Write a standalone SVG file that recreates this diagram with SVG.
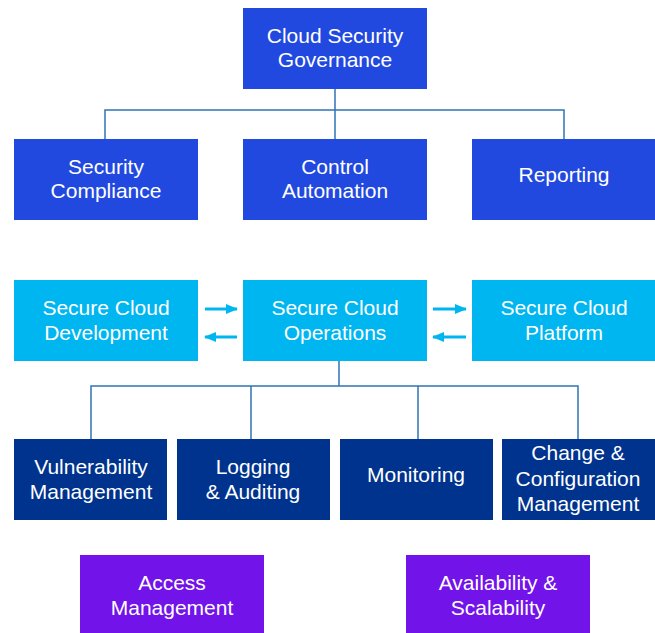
<svg xmlns="http://www.w3.org/2000/svg" width="655" height="633" viewBox="0 0 655 633">
<defs>
<style>
.t{font-family:"Liberation Sans",Arial,sans-serif;font-size:21px;fill:#ffffff;text-anchor:middle}
.gov{fill:#2149E0}
.ops{fill:#00B6F1}
.dom{fill:#00338D}
.oth{fill:#7213EA}
.con{fill:none;stroke:#2F74B5;stroke-width:1.5}
.arr{fill:none;stroke:#00B6F1;stroke-width:3}
</style>
<marker id="ah" viewBox="0 0 12 10" refX="11" refY="5" markerWidth="4" markerHeight="3.33" orient="auto" markerUnits="strokeWidth">
<path d="M0,0 L12,5 L0,10 z" fill="#00B6F1"/>
</marker>
</defs>
<rect width="655" height="633" fill="#ffffff"/>
<g id="connectors">
<path class="con" d="M335,88 V110 M105,139 V110 H564 V139 M335,110 V139"/>
<path class="con" d="M339,360 V386 M91,439 V386 H578 V439 M251,386 V439 M418,386 V439"/>
<path class="arr" d="M205,309 H237" marker-end="url(#ah)"/>
<path class="arr" d="M237,337 H205" marker-end="url(#ah)"/>
<path class="arr" d="M433,309 H466" marker-end="url(#ah)"/>
<path class="arr" d="M466,337 H433" marker-end="url(#ah)"/>
</g>
<g id="n-governance"><rect class="gov" x="243" y="8" width="184" height="81"/><text class="t" x="335" y="43">Cloud Security</text><text class="t" x="335" y="67">Governance</text></g>
<g id="n-compliance"><rect class="gov" x="14" y="139" width="184" height="81"/><text class="t" x="106" y="174">Security</text><text class="t" x="106" y="198">Compliance</text></g>
<g id="n-automation"><rect class="gov" x="243" y="139" width="184" height="81"/><text class="t" x="335" y="174">Control</text><text class="t" x="335" y="198">Automation</text></g>
<g id="n-reporting"><rect class="gov" x="472" y="139" width="183" height="81"/><text class="t" x="564" y="182">Reporting</text></g>
<g id="n-development"><rect class="ops" x="14" y="280" width="184" height="81"/><text class="t" x="106" y="315">Secure Cloud</text><text class="t" x="106" y="340">Development</text></g>
<g id="n-operations"><rect class="ops" x="243" y="280" width="184" height="81"/><text class="t" x="335" y="315">Secure Cloud</text><text class="t" x="335" y="340">Operations</text></g>
<g id="n-platform"><rect class="ops" x="472" y="280" width="183" height="81"/><text class="t" x="564" y="315">Secure Cloud</text><text class="t" x="564" y="340">Platform</text></g>
<g id="n-vulnerability"><rect class="dom" x="14" y="439" width="153" height="81"/><text class="t" x="91" y="474">Vulnerability</text><text class="t" x="91" y="499">Management</text></g>
<g id="n-logging"><rect class="dom" x="177" y="439" width="153" height="81"/><text class="t" x="253" y="474">Logging</text><text class="t" x="253" y="499">&amp; Auditing</text></g>
<g id="n-monitoring"><rect class="dom" x="340" y="439" width="153" height="81"/><text class="t" x="416" y="482">Monitoring</text></g>
<g id="n-change"><rect class="dom" x="502" y="439" width="153" height="81"/><text class="t" x="578" y="460">Change &amp;</text><text class="t" x="578" y="486">Configuration</text><text class="t" x="578" y="511">Management</text></g>
<g id="n-access"><rect class="oth" x="80" y="555" width="184" height="78"/><text class="t" x="172" y="590">Access</text><text class="t" x="172" y="615">Management</text></g>
<g id="n-availability"><rect class="oth" x="406" y="555" width="184" height="78"/><text class="t" x="498" y="590">Availability &amp;</text><text class="t" x="498" y="615">Scalability</text></g>
</svg>
